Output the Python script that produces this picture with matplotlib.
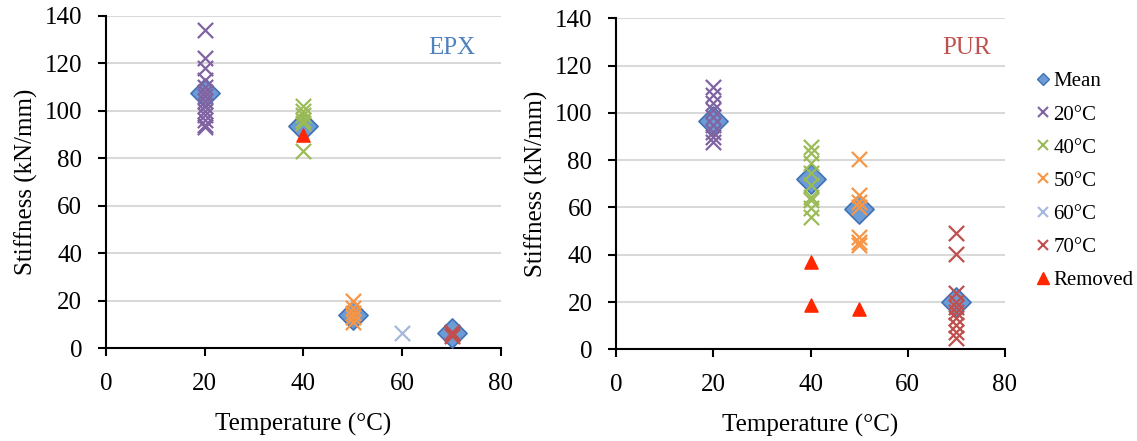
import numpy as np
import matplotlib
matplotlib.use('Agg')
import matplotlib.pyplot as plt
from matplotlib.lines import Line2D

plt.rcParams['font.family'] = ['Liberation Serif', 'DejaVu Serif']

# ── EPX ──────────────────────────────────────────────
epx_20 = [134, 122, 118, 113, 110, 108, 106, 104, 102, 100, 98, 96, 94, 93]
epx_40 = [102, 100, 98, 96, 95, 83]
epx_50 = [20, 17, 15, 13, 11]
epx_60 = [6.6]
epx_70 = [7, 6, 5]
epx_mean_T = [20, 40, 50, 70]
epx_mean = [107.6, 93.7, 14.0, 6.3]
epx_rem_T = [40]
epx_rem = [89.8]

# ── PUR ──────────────────────────────────────────────
pur_20 = [110.8, 107.5, 104, 101.2, 98.4, 94.8, 92, 89.9, 87.8]
pur_40 = [85.7, 83.1, 78.6, 74.4, 69.5, 64.5, 63.1, 59.6, 56.1]
pur_50 = [80.3, 65.2, 62.4, 60.3, 47.6, 45.5, 44.1]
pur_60 = []
pur_70 = [49.0, 40.3, 23.7, 20.1, 18.0, 15.9, 13.1, 10.3, 7.4, 4.7]
pur_mean_T = [20, 40, 50, 70]
pur_mean = [96.7, 71.9, 59.2, 20.1]
pur_rem_T = [40, 40, 50]
pur_rem = [37.0, 18.7, 16.9]

temps = [20, 40, 50, 60, 70]
labels_T = ['20°C', '40°C', '50°C', '60°C', '70°C']
cores = ['#8064A2', '#9BBB59', '#F79646', '#A5B8DC', '#C0504D']
mean_face = '#6C9BD6'
mean_edge = '#3F72B5'
rem_color = '#FF2600'


def painel(ax, series, mean_T, mean, rem_T, rem, titulo, cor_titulo, pos_titulo):
    ax.scatter(mean_T, mean, marker='D', s=220, facecolor=mean_face,
               edgecolor=mean_edge, linewidth=1.2, zorder=3)
    for T, vals, c in zip(temps, series, cores):
        ax.scatter([T] * len(vals), vals, marker='x', s=120, color=c,
                   linewidth=1.6, zorder=4)
    ax.scatter(rem_T, rem, marker='^', s=90, color=rem_color, zorder=5)

    ax.set_xlim(0, 80)
    ax.set_ylim(0, 140)
    ax.set_xticks(range(0, 81, 20))
    ax.set_yticks(range(0, 141, 20))
    ax.grid(axis='y', color='#D9D9D9', linewidth=1.5)
    ax.set_axisbelow(True)
    for s in ['top', 'right']:
        ax.spines[s].set_visible(False)
    for s in ['left', 'bottom']:
        ax.spines[s].set_linewidth(1.5)
    ax.tick_params(axis='both', labelsize=18, width=1.5, length=6, direction='out')
    ax.tick_params(axis='x', pad=12)
    ax.tick_params(axis='y', pad=11)
    ax.set_xlabel('Temperature (°C)', fontsize=18, labelpad=13)
    ax.set_ylabel('Stiffness (kN/mm)', fontsize=18, labelpad=5)
    ax.text(pos_titulo[0], pos_titulo[1], titulo, transform=ax.transAxes,
            fontsize=18, color=cor_titulo, ha='center', va='center')


fig = plt.figure(figsize=(11.37, 4.41), dpi=100)
ax1 = fig.add_axes([0.0932, 0.2102, 0.3474, 0.7542])
ax2 = fig.add_axes([0.5418, 0.2079, 0.3421, 0.7506])

painel(ax1, [epx_20, epx_40, epx_50, epx_60, epx_70], epx_mean_T, epx_mean,
       epx_rem_T, epx_rem, 'EPX', '#4F81BD', (0.876, 0.903))
painel(ax2, [pur_20, pur_40, pur_50, pur_60, pur_70], pur_mean_T, pur_mean,
       pur_rem_T, pur_rem, 'PUR', '#C0504D', (0.900, 0.910))

handles = [Line2D([], [], marker='D', linestyle='none', markersize=6,
                  markerfacecolor=mean_face, markeredgecolor=mean_edge)]
for c in cores:
    handles.append(Line2D([], [], marker='x', linestyle='none', markersize=7,
                          color=c, markeredgewidth=1.5))
handles.append(Line2D([], [], marker='^', linestyle='none', markersize=8,
                      color=rem_color))
ax2.legend(handles, ['Mean'] + labels_T + ['Removed'], loc='upper left',
           bbox_to_anchor=(1.023, 0.895), frameon=False, fontsize=15,
           handletextpad=0.0, handlelength=1.0, labelspacing=0.65)

plt.savefig('out.png', dpi=100)
plt.close()
